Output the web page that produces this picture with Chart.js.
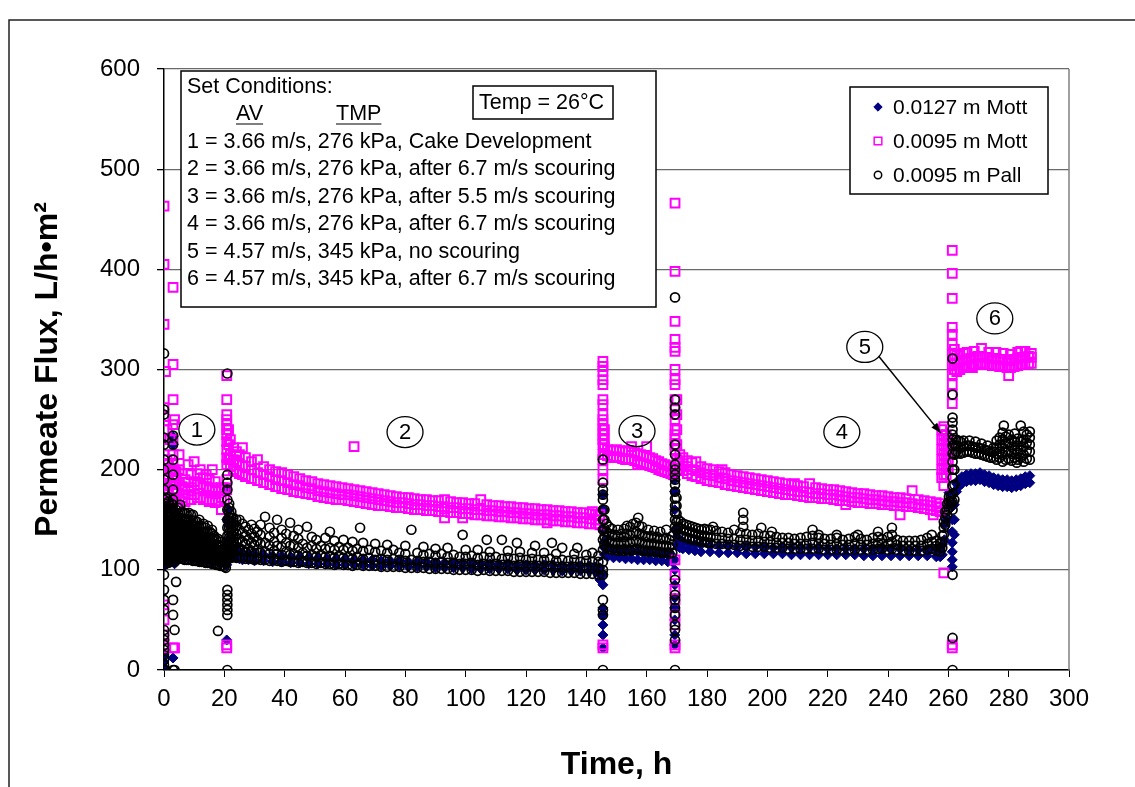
<!DOCTYPE html>
<html lang="en">
<head>
<meta charset="UTF-8">
<title>Permeate Flux vs Time</title>
<style>
  html, body { margin: 0; padding: 0; background: #fff; }
  #wrap { position: relative; width: 1135px; height: 787px; }
</style>
</head>
<body>
<div id="wrap"><canvas id="chart" width="1135" height="787"></canvas></div>
<script src="https://cdn.jsdelivr.net/npm/chart.js"></script>
<script>
// each row: [time h, flux values read at that time...]
const mott127 = [
  [0, 2, 8, 15, 104, 112, 125, 140, 160], [0.5, 105, 118, 132], [1, 106, 120, 135], [1.5, 107, 122],
  [2, 108, 124, 138], [2.5, 110, 125], [3, 12, 110, 130, 150, 225, 233], [3.5, 106, 118],
  [4, 112, 128], [5, 114, 128], [6, 114, 127], [7, 113, 126], [8, 113, 125], [9, 112, 124],
  [10, 112, 123], [11, 111, 122], [12, 111, 121], [13, 110, 120], [14, 110, 119], [15, 109, 118],
  [16, 109, 117], [17, 108, 116], [18, 108, 115], [19, 107, 114], [20, 106, 112],
  [20.8, 30, 105, 125, 150, 180], [21.3, 118, 130, 145, 160], [22, 114, 124], [23, 113, 121],
  [24, 112, 119], [25, 111, 118], [26, 110, 117], [28, 110, 116], [30, 109, 116], [33, 109, 115],
  [36, 108, 114], [39, 108, 114], [42, 107, 113], [45, 107, 113], [48, 106, 112], [51, 106, 112],
  [54, 106, 111], [57, 105, 111], [60, 105, 111], [63, 105, 110], [66, 105, 110], [69, 104, 110],
  [72, 104, 109], [75, 104, 109], [78, 104, 109], [81, 103, 108], [84, 103, 108], [87, 103, 108],
  [90, 102, 107], [93, 102, 107], [96, 102, 107], [99, 102, 107], [102, 101, 106], [105, 101, 106],
  [108, 101, 106], [111, 101, 106], [114, 101, 106], [117, 100, 105], [120, 100, 105], [123, 100, 105],
  [126, 100, 105], [129, 100, 105], [132, 99, 104], [135, 99, 104], [138, 99, 104], [141, 99, 104],
  [143, 98, 103], [144.5, 90, 96, 102],
  [145.5, 22, 35, 45, 55, 62, 85, 95, 140, 160, 175], [146, 115, 122, 128], [147, 113, 121],
  [149, 112, 120], [151, 112, 119], [153, 111, 119], [155, 111, 118], [157, 110, 118], [159, 110, 117],
  [161, 110, 117], [163, 109, 116], [165, 109, 116], [167, 108, 115], [168.5, 108, 114],
  [169.3, 25, 35, 50, 62, 72, 85, 100, 110, 140, 160, 178, 190], [170, 125, 133, 140], [171, 122, 130],
  [172, 121, 128], [174, 120, 126], [176, 119, 125], [178, 118, 125], [181, 118, 124], [184, 117, 124],
  [187, 117, 124], [190, 117, 123], [193, 116, 123], [196, 116, 123], [199, 116, 123], [202, 116, 122],
  [205, 116, 122], [208, 115, 122], [211, 115, 122], [214, 115, 122], [217, 115, 122], [220, 115, 121],
  [223, 115, 121], [226, 115, 121], [229, 115, 121], [232, 114, 121], [235, 114, 121], [238, 114, 121],
  [241, 114, 121], [244, 114, 121], [247, 114, 120], [250, 114, 120], [253, 114, 120], [256, 113, 120],
  [257.3, 113, 119],
  [258, 115, 125], [258.7, 130, 145], [259.4, 150, 165], [260.2, 165, 177],
  [261.3, 103, 110, 118, 127, 138, 150, 163], [262, 135, 150, 165, 178],
  [262.7, 178, 186], [263.5, 183, 190], [264.5, 186, 193], [266, 188, 195], [267.5, 189, 196],
  [269, 189, 196], [270.5, 190, 197], [272, 188, 195], [273.5, 187, 194], [275, 185, 192],
  [276.5, 184, 191], [278, 183, 190], [279.5, 183, 190], [281, 182, 189], [282.5, 183, 190],
  [284, 184, 191], [285.5, 186, 193], [287, 187, 194]
];

const mott095 = [
  [0, 22, 25, 35, 50, 65, 160, 175, 190, 200, 215, 230, 240, 253, 262, 345, 405, 463],
  [0.5, 170, 185, 200, 298], [1, 175, 185, 195, 210, 240], [1.5, 168, 180, 192, 205],
  [2, 170, 185, 200, 230], [2.5, 172, 186, 198], [3, 22, 180, 195, 205, 215, 230, 245, 270, 305, 382],
  [3.5, 22, 172, 185, 198, 250], [4, 172, 185, 198], [5, 170, 185, 200, 215], [6, 172, 183, 196],
  [7, 168, 180, 190], [8, 175, 187, 205], [9, 170, 182, 195], [10, 175, 188, 208], [11, 172, 185, 196],
  [12, 172, 185, 200], [13, 170, 182, 192], [14, 170, 183, 195], [15, 168, 180, 190], [16, 170, 182, 200],
  [17, 167, 178, 188], [18, 168, 180], [19, 160, 172, 182], [20, 170, 182],
  [20.8, 22, 25, 180, 190, 205, 212, 220, 228, 235, 240, 245, 250, 255, 270, 294],
  [21.4, 210, 225, 240], [22, 203, 215, 230], [23, 200, 210, 222], [24, 198, 208, 218],
  [25, 196, 205, 215], [26, 195, 204, 222], [27, 193, 203, 212], [29, 191, 200, 208],
  [31, 189, 197, 210], [33, 187, 195, 203], [35, 185, 193, 200], [37, 183, 190, 198],
  [39, 181, 189, 197], [41, 180, 187, 195], [43, 178, 185, 193], [45, 177, 184, 191],
  [47, 176, 182, 189], [49, 175, 181, 188], [51, 173, 179, 186], [53, 172, 178, 185],
  [55, 171, 177, 184], [57, 170, 176, 183], [59, 170, 175, 182], [61, 169, 175, 181],
  [63, 168, 174, 180, 223], [65, 167, 173, 179], [67, 166, 172, 178], [69, 165, 171, 177],
  [71, 164, 170, 176], [73, 164, 169, 175], [75, 163, 168, 174], [77, 162, 167, 173],
  [79, 162, 167, 172], [81, 161, 166, 172], [83, 160, 165, 171], [85, 160, 165, 170],
  [87, 159, 164, 170], [89, 159, 164, 169], [91, 158, 163, 169], [93, 152, 158, 163, 170],
  [95, 157, 162, 168], [97, 157, 162, 167], [99, 152, 156, 161, 167], [101, 156, 161, 166],
  [103, 155, 160, 166], [105, 155, 160, 170], [107, 154, 159, 165], [109, 154, 159, 164],
  [111, 153, 158, 164], [113, 153, 158, 163], [115, 152, 157, 163], [117, 152, 157, 162],
  [119, 151, 156, 162], [121, 151, 156, 161], [123, 150, 155, 161], [125, 150, 155, 160],
  [127, 147, 150, 155, 160], [129, 149, 154, 159], [131, 149, 154, 159], [133, 148, 153, 158],
  [135, 148, 153, 158], [137, 147, 152, 157], [139, 147, 152, 157], [141, 146, 151, 156],
  [142, 158], [143, 146, 150, 155], [144.5, 145, 150, 155],
  [145.5, 22, 25, 190, 200, 210, 215, 225, 230, 235, 240, 245, 250, 255, 265, 270, 285, 290, 298, 303, 308],
  [146, 215, 222, 230, 240], [147, 214, 220], [148, 213, 219], [149, 212, 219], [150, 213, 220],
  [151, 212, 219], [152, 211, 218], [153, 210, 218], [154, 211, 219], [155, 210, 218, 223],
  [156, 209, 217], [157, 205, 208, 216], [158, 207, 215], [159, 206, 214], [160, 205, 213, 223],
  [161, 204, 212], [162, 203, 211], [163, 202, 209], [164, 200, 208], [165, 199, 206],
  [166, 198, 205], [167, 197, 204], [168, 196, 203], [168.8, 195, 201],
  [169.4, 22, 25, 45, 55, 70, 80, 95, 110, 220, 225, 230, 235, 240, 250, 260, 270, 285, 290, 300, 318, 322, 330, 348, 398, 466],
  [170, 200, 210, 225, 240, 255, 270], [171, 200, 208, 215], [172, 199, 206, 212], [173.5, 196, 203, 209],
  [175, 194, 200, 207], [176.3, 193, 199, 208], [178, 191, 197, 203], [180, 189, 195, 201],
  [182, 188, 194, 200], [184, 187, 192, 198], [185, 200], [186, 185, 191, 197], [188, 184, 189, 195],
  [190, 183, 188, 194], [192, 182, 187, 193], [194, 181, 186, 192], [196, 180, 185, 191],
  [198, 179, 184, 190], [200, 178, 183, 189], [202, 177, 182, 188], [204, 176, 181, 187],
  [206, 175, 180, 186], [208, 175, 179, 185], [209, 186], [210, 174, 178, 184], [212, 173, 178, 183],
  [214, 172, 177, 186], [216, 172, 176, 182], [218, 171, 176, 181], [220, 171, 175, 180],
  [222, 170, 175, 180], [224, 169, 174, 179], [226, 165, 169, 173, 178], [228, 168, 172, 177],
  [230, 167, 172, 176], [232, 167, 171, 176], [234, 166, 170, 175], [236, 166, 170, 174],
  [238, 165, 169, 174], [240, 165, 168, 173], [242, 164, 168, 172], [244, 155, 164, 167, 172],
  [246, 163, 167, 171], [248, 163, 166, 179], [250, 162, 165, 170], [252, 161, 165, 169],
  [254, 160, 164, 168], [255, 155], [256, 159, 163, 167], [257.3, 158, 162, 166],
  [257.8, 192, 200, 210, 220, 230, 240], [258.5, 97, 184, 195, 205, 215, 225, 235, 243],
  [259.3, 195, 205, 215, 225, 235], [260, 200, 210, 220, 230],
  [261.3, 22, 25, 266, 275, 285, 295, 305, 315, 325, 335, 342, 371, 396, 419], [262, 300, 310, 320],
  [262.8, 298, 306, 314], [263.8, 300, 308, 315], [265, 302, 309, 316], [266.2, 303, 310, 317],
  [267.4, 304, 311], [268, 302], [268.6, 305, 312, 318], [269.8, 306, 313], [271, 306, 313, 321],
  [272.2, 305, 312], [273.4, 305, 312, 317], [274.6, 304, 311], [275.8, 304, 311, 317],
  [277, 303, 310], [278.2, 303, 310, 316], [279.4, 302, 309], [280, 294], [280.6, 302, 309, 315],
  [281.8, 303, 310], [283, 304, 311, 317], [284, 318], [284.2, 305, 312], [285.4, 305, 312, 318],
  [286.6, 306, 313], [287.5, 306, 312, 316]
];

const pall095 = [
  [0, 0, 5, 10, 15, 20, 25, 30, 35, 40, 60, 70, 80, 95, 110, 120, 130, 140, 150, 160, 170, 180, 190, 200, 210, 225, 232, 255, 260, 316],
  [0.5, 0, 106, 111, 116, 121, 126, 131, 136, 141, 146, 151, 156, 161, 166, 172],
  [1, 108, 113, 118, 123, 128, 133, 138, 143, 148, 153, 158, 164, 171],
  [1.5, 107, 112, 117, 122, 127, 132, 137, 142, 147, 152, 157, 162, 168],
  [2, 108, 113, 118, 123, 128, 133, 138, 143, 148, 153, 158, 164],
  [2.5, 109, 114, 119, 124, 129, 134, 139, 144, 149, 154, 160, 166],
  [3, 0, 55, 70, 110, 116, 122, 128, 134, 140, 146, 152, 158, 165, 170, 180, 195, 210, 225, 234],
  [3.5, 0, 40, 108, 113, 118, 123, 128, 133, 138, 143, 148, 153, 158],
  [4, 88, 110, 115, 120, 125, 130, 135, 140, 145, 150, 155, 160],
  [4.7, 111, 116, 121, 126, 131, 136, 141, 146, 151, 156, 162],
  [5.4, 112, 117, 122, 127, 132, 137, 142, 147, 152, 157, 165],
  [6.1, 111, 116, 121, 126, 131, 136, 141, 146, 151, 158],
  [6.8, 110, 115, 120, 125, 130, 135, 140, 145, 150, 157],
  [7.5, 110, 115, 120, 125, 130, 135, 140, 145, 151, 156],
  [8.2, 110, 115, 120, 125, 130, 135, 140, 145, 150, 157],
  [8.9, 110, 115, 120, 125, 130, 135, 140, 145, 150, 155],
  [9.6, 109, 114, 119, 124, 129, 134, 139, 144, 149, 155],
  [10.3, 109, 114, 119, 124, 129, 134, 139, 144, 149],
  [11, 109, 114, 119, 124, 129, 134, 139, 144, 148],
  [11.7, 108, 113, 118, 123, 128, 133, 138, 143, 150],
  [12.4, 108, 113, 118, 123, 128, 133, 138, 144],
  [13.1, 108, 113, 118, 123, 128, 133, 138, 146],
  [13.8, 107, 112, 117, 122, 127, 132, 137, 142],
  [14.5, 107, 112, 117, 122, 127, 132, 137, 144],
  [15.2, 107, 112, 117, 122, 127, 132, 138],
  [15.9, 106, 111, 116, 121, 126, 131, 136, 140],
  [16.6, 106, 111, 116, 121, 126, 131, 134],
  [17.3, 105, 110, 115, 120, 125, 130],
  [17.9, 39, 105, 110, 115, 120, 125, 131],
  [18.6, 104, 109, 114, 119, 124, 128], [19.3, 104, 109, 114, 119, 124],
  [20, 103, 108, 113, 118, 122], [20.5, 102, 107, 112, 117],
  [21, 0, 55, 60, 65, 70, 75, 80, 110, 118, 126, 134, 142, 150, 160, 170, 180, 187, 195, 296],
  [21.6, 112, 117, 122, 127, 132, 137, 142, 147, 152, 157, 162, 166],
  [22.3, 112, 117, 122, 127, 132, 137, 142, 147, 152, 158],
  [23, 113, 118, 123, 128, 133, 138, 143, 148, 152], [24, 112, 120, 128, 136, 144, 150], [25, 113, 122, 131, 140, 150],
  [26, 112, 120, 128, 137, 146], [27, 111, 118, 126, 134, 143], [28, 112, 121, 130, 140],
  [29, 111, 118, 127, 136, 145], [30, 110, 117, 125, 133, 141], [31, 111, 120, 129, 138],
  [32, 110, 117, 126, 135, 145], [33.5, 110, 118, 127, 153], [35, 109, 116, 124, 133, 142],
  [36.5, 110, 119, 128, 137], [37.5, 109, 116, 124, 150], [39, 108, 115, 123, 132, 140],
  [40.5, 109, 118, 127, 136], [41.8, 108, 115, 124, 147], [43, 108, 116, 125, 134],
  [44.5, 107, 114, 122, 131, 140], [46, 108, 117, 126], [47.4, 107, 114, 122, 143],
  [49, 107, 115, 124, 133], [50.5, 106, 113, 121, 130], [52, 107, 115, 124], [53.5, 106, 113, 121, 132],
  [55, 106, 114, 122, 138], [56.5, 105, 112, 120, 129], [58, 106, 114, 123], [59.5, 105, 112, 120, 130],
  [61, 105, 113, 122], [62.5, 104, 111, 119, 128], [64, 105, 113, 121], [65, 142],
  [66, 104, 111, 119, 127], [68, 104, 112, 120], [70, 104, 110, 118, 126], [72, 103, 111, 119],
  [74, 103, 110, 117, 125], [76, 103, 111, 120], [78, 103, 110, 117], [80, 102, 109, 116, 124],
  [82, 102, 110, 140], [84, 102, 109, 117], [86, 102, 108, 115, 123], [88, 101, 108, 116],
  [90, 101, 107, 114, 121], [92, 101, 108, 116], [94, 101, 107, 113, 122], [96, 100, 107, 115],
  [98, 100, 106, 113], [99, 135], [100, 100, 106, 113, 120], [102, 100, 107, 114],
  [104, 99, 105, 112, 120], [106, 100, 106, 113], [107, 130], [108, 99, 105, 112, 118],
  [110, 99, 106, 113], [112, 99, 105, 111, 130], [114, 99, 105, 112, 119], [116, 98, 104, 111],
  [117, 127], [118, 98, 105, 112, 118], [120, 98, 104, 110], [122, 98, 104, 111, 117], [123, 124],
  [124, 98, 104, 110], [126, 98, 103, 110, 117], [128, 97, 104, 111], [128.6, 127],
  [130, 97, 103, 109, 116], [132, 97, 103, 110, 122], [134, 97, 103, 109], [136, 97, 103, 110, 116],
  [137, 122], [138, 96, 102, 108], [140, 96, 102, 109, 115], [142, 96, 102, 108, 117],
  [144, 95, 101, 108, 114],
  [145.5, 0, 55, 60, 70, 95, 100, 108, 120, 130, 140, 150, 160, 170, 175, 180, 187, 210],
  [146, 125, 133, 141, 150, 160], [146.7, 122, 130, 138, 146], [147.5, 121, 128, 136, 143],
  [148.5, 120, 127, 134, 141], [149.5, 120, 127, 135], [150.5, 119, 126, 133, 140],
  [151.5, 120, 128, 136], [152.5, 119, 126, 133, 141], [153.5, 120, 128, 136, 144],
  [154.5, 119, 127, 135, 143], [155.5, 120, 128, 137, 146], [156.5, 121, 129, 138, 147], [157.2, 152],
  [157.5, 120, 128, 136, 144], [158.5, 119, 127, 135, 143], [159.5, 119, 126, 134],
  [160.5, 118, 125, 133, 140], [161.5, 119, 126, 134], [162.5, 118, 125, 132, 139],
  [163.5, 118, 125, 133], [164.5, 117, 124, 131, 138], [165.5, 117, 124, 131],
  [166.5, 117, 124, 132, 140], [167.5, 116, 123, 130], [168.5, 117, 125, 134],
  [169.4, 0, 30, 40, 45, 55, 62, 70, 75, 90, 143, 150, 157, 164, 171, 178, 185, 190, 195, 200, 205, 215, 225, 255, 262, 270, 372],
  [169.9, 140, 148, 156, 164, 172], [170.5, 136, 143, 150], [171.3, 134, 141, 148], [172.2, 133, 140, 146],
  [173.2, 132, 139, 145], [174.2, 131, 138, 144], [175.2, 130, 137, 143], [176.2, 130, 136, 142],
  [177.2, 129, 135, 141], [178.2, 128, 134, 140], [179.2, 128, 134, 141], [180.2, 127, 133, 140],
  [181.2, 127, 133, 140], [182, 143], [183, 126, 132, 139], [185, 126, 132, 138], [187, 125, 131, 137],
  [189, 125, 131, 140], [191, 124, 130, 137], [192, 143, 150, 157], [193, 124, 130, 136],
  [195, 123, 129, 135], [197, 123, 129, 136], [198, 142], [199, 123, 128, 134], [201, 122, 128, 134],
  [201.5, 138], [203, 122, 127, 133], [205, 122, 127, 132], [207, 121, 127, 132], [209, 121, 126, 131],
  [211, 121, 126, 132], [213, 121, 126, 133], [215, 121, 127, 134, 140], [217, 121, 126, 132, 135],
  [219, 120, 126, 131], [221, 120, 125, 131], [223, 120, 126, 132, 135], [225, 120, 125, 130],
  [227, 120, 125, 131], [229, 120, 126, 133], [230, 135], [231, 120, 125, 131], [233, 120, 125, 130],
  [235, 120, 126, 132], [236.7, 121, 127, 133, 138], [238, 121, 126, 131], [240, 120, 126, 133],
  [241.3, 121, 128, 135, 142], [243, 120, 125, 130], [245, 119, 124, 129], [247, 119, 124, 129],
  [249, 119, 124, 129], [251, 119, 124, 130], [253, 120, 126, 132], [254.5, 121, 128, 135],
  [256, 119, 124, 129], [257.3, 118, 122, 127],
  [258, 122, 128, 134], [258.5, 135, 142, 148], [259, 145, 152, 158], [259.6, 155, 160, 166],
  [260.2, 162, 168, 173], [260.8, 168, 174],
  [261.4, 0, 32, 95, 160, 168, 176, 184, 192, 200, 208, 216, 224, 230, 235, 240, 247, 252, 275, 311],
  [262, 170, 185, 200, 215, 225],
  [262.6, 218, 224, 230], [263.3, 217, 223, 229], [264, 216, 222, 228], [265, 217, 223, 229],
  [266, 218, 224], [267, 218, 224, 229], [268, 217, 223], [269, 216, 222, 228], [270, 216, 222],
  [271, 215, 221, 226], [272, 214, 220], [273, 213, 219, 224], [274, 212, 218], [275, 212, 218, 222],
  [276, 210, 216, 222, 229], [277, 212, 218, 225, 232], [278, 208, 215, 222, 230, 237], [278.4, 244],
  [279, 210, 218, 226, 233], [280, 211, 219, 227, 235], [281, 209, 216, 223, 230],
  [282, 212, 220, 228, 236], [282.7, 207], [283, 210, 217, 224, 231], [284, 212, 220, 228, 244],
  [285, 208, 215, 223, 230, 238], [286, 211, 219, 227, 235], [287, 210, 218, 225, 232, 238]
];

const seriesNames = ['0.0127 m Mott', '0.0095 m Mott', '0.0095 m Pall'];
const xTicks = [0, 300, 20];
const yTicks = [0, 600, 100];

const conditionLines = [
  '1 = 3.66 m/s, 276 kPa, Cake Development',
  '2 = 3.66 m/s, 276 kPa, after 6.7 m/s scouring',
  '3 = 3.66 m/s, 276 kPa, after 5.5 m/s scouring',
  '4 = 3.66 m/s, 276 kPa, after 6.7 m/s scouring',
  '5 = 4.57 m/s, 345 kPa, no scouring',
  '6 = 4.57 m/s, 345 kPa, after 6.7 m/s scouring'
];
// circled region numbers, placed in data units (time, flux)
const regionMarks = [
  ['1', 10.9, 240], ['2', 79.9, 237.5], ['3', 156.8, 238.5],
  ['4', 224.7, 237.5], ['5', 232.3, 322.5], ['6', 275.4, 351]
];
const arrowFive = [[237, 313], [257.5, 236.5]];

const FONT = '"Liberation Sans", Arial, sans-serif';
const toPoints = rows => rows.flatMap(r => r.slice(1).map(f => ({ x: r[0], y: f })));

const styles = [
  { pointStyle: 'rectRot', radius: 5, bg: '#000080', border: '#000080', bw: 1 },
  { pointStyle: 'rect', radius: 6.2, bg: 'rgba(0,0,0,0)', border: '#FF00FF', bw: 2 },
  { pointStyle: 'circle', radius: 4.5, bg: 'rgba(0,0,0,0)', border: '#000000', bw: 1.7 }
];

const overlay = {
  id: 'overlay',
  beforeDraw(chart) {
    const ctx = chart.ctx;
    ctx.save();
    ctx.fillStyle = '#fff';
    ctx.fillRect(0, 0, chart.width, chart.height);
    ctx.strokeStyle = '#222';
    ctx.lineWidth = 1.5;
    ctx.beginPath();
    ctx.moveTo(9, chart.height);
    ctx.lineTo(9, 20);
    ctx.lineTo(chart.width, 20);
    ctx.stroke();
    ctx.restore();
  },
  afterDatasetsDraw(chart) {
    const ctx = chart.ctx;
    const xs = chart.scales.x, ys = chart.scales.y;
    const area = chart.chartArea;
    ctx.save();

    // plot area right border
    ctx.strokeStyle = '#808080';
    ctx.lineWidth = 1.5;
    ctx.beginPath();
    ctx.moveTo(area.right, area.top);
    ctx.lineTo(area.right, area.bottom);
    ctx.stroke();

    // set conditions box
    ctx.fillStyle = '#fff';
    ctx.fillRect(181, 71, 475, 236);
    ctx.strokeStyle = '#000';
    ctx.lineWidth = 1.5;
    ctx.strokeRect(181, 71, 475, 236);
    ctx.fillStyle = '#000';
    ctx.font = '21.5px ' + FONT;
    ctx.textBaseline = 'middle';
    ctx.textAlign = 'left';
    ctx.fillText('Set Conditions:', 187, 87);
    ctx.fillText('AV', 236, 114);
    ctx.fillText('TMP', 336, 114);
    ctx.lineWidth = 1.2;
    ctx.beginPath();
    ctx.moveTo(236, 124); ctx.lineTo(236 + ctx.measureText('AV').width, 124);
    ctx.moveTo(336, 124); ctx.lineTo(336 + ctx.measureText('TMP').width, 124);
    ctx.stroke();
    conditionLines.forEach((s, i) => ctx.fillText(s, 187, 142 + i * 27.5));

    // temperature box
    ctx.fillStyle = '#fff';
    ctx.fillRect(473, 86, 140, 33);
    ctx.lineWidth = 1.5;
    ctx.strokeRect(473, 86, 140, 33);
    ctx.fillStyle = '#000';
    ctx.fillText('Temp = 26°C', 479, 103);

    // legend box
    ctx.fillStyle = '#fff';
    ctx.fillRect(850, 87, 198, 107);
    ctx.strokeRect(850, 87, 198, 107);
    ctx.font = '21px ' + FONT;
    seriesNames.forEach((name, i) => {
      const y = 107 + i * 34;
      const st = styles[i];
      ctx.fillStyle = st.bg;
      ctx.strokeStyle = st.border;
      ctx.lineWidth = Math.min(st.bw, 1.5);
      Chart.helpers.drawPoint(ctx, { pointStyle: st.pointStyle, radius: st.radius - 0.8, rotation: 0, borderWidth: st.bw }, 878, y);
      ctx.fillStyle = '#000';
      ctx.fillText(name, 893, y + 1);
    });

    // circled region numbers
    ctx.strokeStyle = '#000';
    ctx.lineWidth = 1.3;
    ctx.font = '22px ' + FONT;
    ctx.textAlign = 'center';
    regionMarks.forEach(([label, t, f]) => {
      const px = xs.getPixelForValue(t), py = ys.getPixelForValue(f);
      ctx.beginPath();
      ctx.ellipse(px, py, 18, 15.5, 0, 0, Math.PI * 2);
      ctx.stroke();
      ctx.fillStyle = '#000';
      ctx.fillText(label, px, py + 1);
    });

    // arrow from 5
    const [a, b] = arrowFive;
    const x1 = xs.getPixelForValue(a[0]), y1 = ys.getPixelForValue(a[1]);
    const x2 = xs.getPixelForValue(b[0]), y2 = ys.getPixelForValue(b[1]);
    ctx.lineWidth = 1.5;
    ctx.beginPath();
    ctx.moveTo(x1, y1);
    ctx.lineTo(x2, y2);
    ctx.stroke();
    const ang = Math.atan2(y2 - y1, x2 - x1);
    ctx.beginPath();
    ctx.moveTo(x2, y2);
    ctx.lineTo(x2 - 11 * Math.cos(ang - 0.35), y2 - 11 * Math.sin(ang - 0.35));
    ctx.lineTo(x2 - 11 * Math.cos(ang + 0.35), y2 - 11 * Math.sin(ang + 0.35));
    ctx.closePath();
    ctx.fill();
    ctx.restore();
  }
};

const allRows = [mott127, mott095, pall095];
const datasets = allRows.map((rows, i) => ({
  label: seriesNames[i],
  data: toPoints(rows),
  showLine: false,
  pointStyle: styles[i].pointStyle,
  pointRadius: styles[i].radius,
  pointHoverRadius: styles[i].radius,
  pointBackgroundColor: styles[i].bg,
  pointBorderColor: styles[i].border,
  pointBorderWidth: styles[i].bw,
  order: 2 - i
}));

new Chart(document.getElementById('chart'), {
  type: 'scatter',
  data: { datasets },
  options: {
    responsive: false,
    animation: false,
    devicePixelRatio: 1,
    layout: { padding: { top: 69, right: 66, left: 0, bottom: 0 } },
    plugins: { legend: { display: false }, tooltip: { enabled: false } },
    scales: {
      x: {
        type: 'linear',
        min: xTicks[0], max: xTicks[1],
        afterFit(scale) { scale.height = 117; },
        ticks: { stepSize: xTicks[2], color: '#000', font: { family: FONT, size: 24 }, padding: 8, maxRotation: 0 },
        grid: { drawOnChartArea: false, drawTicks: true, tickLength: 7, color: '#000', tickColor: '#000' },
        border: { color: '#000', width: 1.5 },
        title: { display: true, text: 'Time, h', color: '#000', font: { family: FONT, size: 32, weight: 'bold' }, padding: { top: 0, bottom: 3 } }
      },
      y: {
        min: yTicks[0], max: yTicks[1],
        afterFit(scale) { scale.width = 164; },
        ticks: { stepSize: yTicks[2], color: '#000', font: { family: FONT, size: 24 }, padding: 17 },
        grid: { color: '#6a6a6a', lineWidth: 1.3, tickLength: 7, tickColor: '#000' },
        border: { color: '#000', width: 1.5 },
        title: { display: true, text: 'Permeate Flux, L/h•m²', color: '#000', font: { family: FONT, size: 32, weight: 'bold' }, padding: { top: 29, bottom: 0 } }
      }
    }
  },
  plugins: [overlay]
});
</script>
</body>
</html>
